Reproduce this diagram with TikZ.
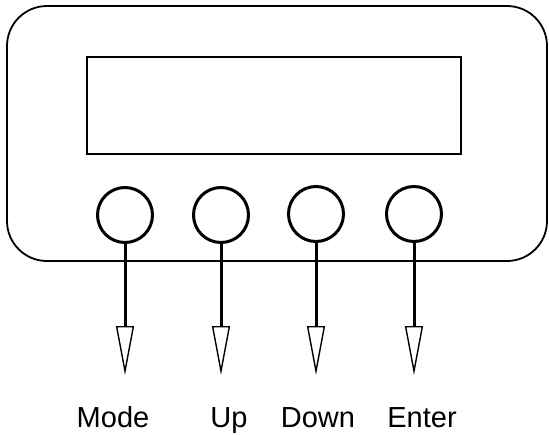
\documentclass[tikz,border=0pt]{standalone}
\usepackage{fontspec}
\setmainfont{Liberation Sans}
\usetikzlibrary{arrows.meta}
\begin{document}
\begin{tikzpicture}[x=1pt,y=-1pt,
  panel/.style={draw=black, line width=1.8pt, rounded corners=40pt},
  screen/.style={draw=black, line width=1.6pt},
  knob/.style={circle, draw=black, line width=3pt, minimum size=55pt, inner sep=0pt},
  shaft/.style={draw=black, line width=3pt, -{Triangle[open, length=49pt, width=18pt, line width=1.4pt]}},
  lbl/.style={anchor=base, font=\fontsize{29}{33}\selectfont, inner sep=0pt}]
\useasboundingbox (0,0) rectangle (549,434);
\draw[panel] (7,6) rectangle (547,261);
\draw[screen] (87,57) rectangle (461,154);
\node[knob] (b1) at (125,215) {};
\node[knob] (b2) at (221,215) {};
\node[knob] (b3) at (316,214) {};
\node[knob] (b4) at (414,214) {};
\coordinate (t1) at (125,375);
\coordinate (t2) at (221,375);
\coordinate (t3) at (316,375);
\coordinate (t4) at (414,375);
\draw[shaft] (b1.south) -- (t1);
\draw[shaft] (b2.south) -- (t2);
\draw[shaft] (b3.south) -- (t3);
\draw[shaft] (b4.south) -- (t4);
\node[lbl] (l1) at (113,427) {Mode};
\node[lbl] (l2) at (229,427) {Up};
\node[lbl] (l3) at (318,427) {Down};
\node[lbl] (l4) at (422,427) {Enter};
\end{tikzpicture}
\end{document}
